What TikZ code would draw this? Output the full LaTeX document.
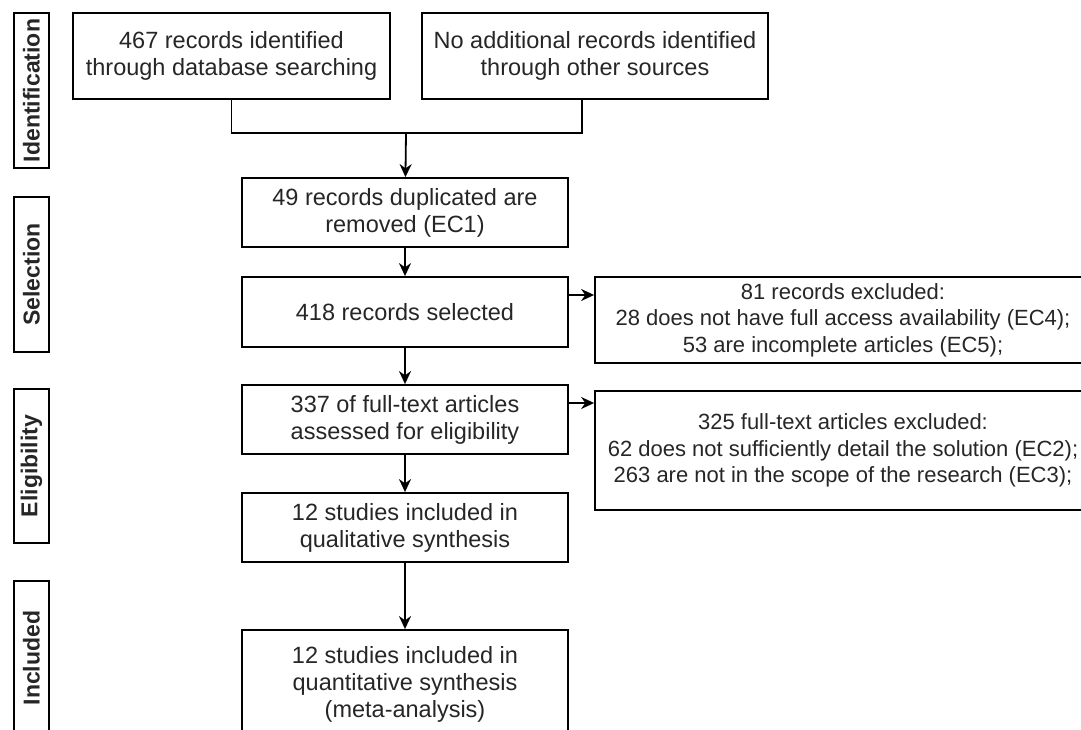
\documentclass[tikz,border=0pt]{standalone}
\usepackage{fontspec}
\setmainfont{Liberation Sans}
\usetikzlibrary{arrows.meta}

\begin{document}
\begin{tikzpicture}[x=1pt, y=-1pt,
  every node/.style={font=\fontsize{23.5}{27}\selectfont, text=black!85},
  stage/.style={draw=black, line width=1.8pt, rotate=90, font=\fontsize{23}{27}\selectfont\bfseries, minimum height=35pt, inner sep=0pt},
  box/.style={draw=black, line width=1.8pt, align=center, inner sep=0pt},
  exclbox/.style={box, font=\fontsize{22}{26.5}\selectfont},
  arrow/.style={line width=1.8pt, -{Stealth[length=13pt, width=12pt]}}]
\useasboundingbox (0, 0) rectangle (1081, 730);
\clip (0, 0) rectangle (1081, 730);

\node[stage, minimum width=155pt] (ident) at (31.5, 90.5) {Identification};
\node[stage, minimum width=155pt] (selection) at (31.5, 274.5) {Selection};
\node[stage, minimum width=154pt] (eligibility) at (31.5, 466) {Eligibility};
\node[stage, minimum width=154pt] (included) at (31.5, 658) {Included};

\node[box, minimum width=317pt, minimum height=86pt] (database) at (231.5, 56) {467 records identified\\through database searching};
\node[box, minimum width=346pt, minimum height=86pt] (other) at (595, 56) {No additional records identified\\through other sources};
\node[box, minimum width=326pt, minimum height=69pt] (dup) at (405, 212.5) {49 records duplicated are\\removed (EC1)};
\node[box, minimum width=326pt, minimum height=70pt] (selected) at (405, 312) {418 records selected};
\node[box, minimum width=326pt, minimum height=69pt] (fulltext) at (405, 419.5) {337 of full-text articles\\assessed for eligibility};
\node[box, minimum width=326pt, minimum height=69pt] (qual) at (405, 527.5) {12 studies included in\\qualitative synthesis};
\node[box, minimum width=326pt, minimum height=108pt] (quant) at (405, 684) {12 studies included in\\quantitative synthesis\\(meta-analysis)};
\node[exclbox, minimum width=496pt, minimum height=86pt] (excl1) at (843, 320) {81 records excluded:\\28 does not have full access availability (EC4);\\53 are incomplete articles (EC5);};
\node[exclbox, minimum width=496pt, minimum height=119pt] (excl2) at (843, 450.5) {325 full-text articles excluded:\\62 does not sufficiently detail the solution (EC2);\\263 are not in the scope of the research (EC3);};

\coordinate (merge) at (406, 133);
\coordinate (otherout) at ([xshift=-13pt]other.south);
\coordinate (selout) at ([yshift=17pt]selected.east);
\coordinate (fullout) at ([yshift=16.5pt]fulltext.east);

\draw[line width=1.8pt] (database.south) |- (merge) -| (otherout);
\draw[arrow] (merge) -- (dup);
\draw[arrow] (dup) -- (selected);
\draw[arrow] (selected) -- (fulltext);
\draw[arrow] (fulltext) -- (qual);
\draw[arrow] (qual) -- (quant);
\draw[arrow] (selout) -- (selout -| excl1.west);
\draw[arrow] (fullout) -- (fullout -| excl2.west);

\end{tikzpicture}
\end{document}
